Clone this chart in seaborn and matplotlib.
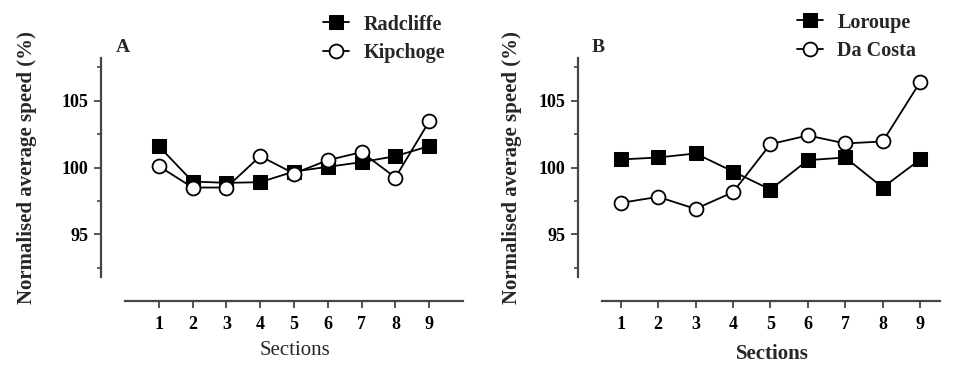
import pandas as pd
import matplotlib
matplotlib.use("Agg")
import matplotlib.pyplot as plt
from matplotlib.ticker import MultipleLocator
import seaborn as sns

# Datos
sections = [1, 2, 3, 4, 5, 6, 7, 8, 9]
radcliffe = [101.6, 98.95, 98.85, 98.9, 99.7, 100.05, 100.4, 100.85, 101.6]
kipchoge = [100.1, 98.5, 98.5, 100.85, 99.55, 100.55, 101.15, 99.25, 103.45]
loroupe = [100.6, 100.75, 101.05, 99.7, 98.35, 100.55, 100.75, 98.5, 100.6]
da_costa = [97.35, 97.8, 96.9, 98.15, 101.75, 102.4, 101.8, 101.95, 106.4]
yticks = [95, 100, 105]

sns.set_style("ticks")
plt.rcParams['font.family'] = ['Liberation Serif', 'DejaVu Serif']
plt.rcParams['font.weight'] = 'bold'

df = pd.DataFrame({'section': sections, 'Radcliffe': radcliffe, 'Kipchoge': kipchoge,
                   'Loroupe': loroupe, 'Da Costa': da_costa})

fig = plt.figure(figsize=(9.58, 3.66), dpi=100)
ax_a = fig.add_axes([125 / 958, 1 - 277 / 366, 338 / 958, 219 / 366])
ax_b = fig.add_axes([602 / 958, 1 - 277 / 366, 338 / 958, 219 / 366])

spine_col = '#4a4444'


def panel(ax, filled, hollow, xlim, letter, letter_x, leg_x, leg_y,
          xlabel_weight, ylab_x, xlab_y):
    sns.lineplot(data=df, x='section', y=filled, ax=ax, color='black', lw=1.3,
                 marker='s', markersize=10, markerfacecolor='black',
                 markeredgecolor='black', label=filled)
    sns.lineplot(data=df, x='section', y=hollow, ax=ax, color='black', lw=1.3,
                 marker='o', markersize=10, markerfacecolor='white',
                 markeredgecolor='black', markeredgewidth=1.3, label=hollow)
    ax.set_xlim(*xlim)
    ax.set_ylim(91.8, 108.2)
    ax.set_xticks(sections)
    ax.set_yticks(yticks)
    ax.yaxis.set_minor_locator(MultipleLocator(2.5))
    ax.tick_params(axis='both', labelsize=13, colors=spine_col, labelcolor='black',
                   width=1.3, length=5, pad=4)
    ax.tick_params(axis='x', pad=6)
    ax.tick_params(axis='y', which='minor', length=3, width=1.2, colors=spine_col)
    for lab in ax.get_xticklabels() + ax.get_yticklabels():
        lab.set_fontweight('bold')
    sns.despine(ax=ax)
    ax.spines['left'].set_position(('outward', 17.5))
    ax.spines['bottom'].set_position(('outward', 17))
    for s in ('left', 'bottom'):
        ax.spines[s].set_linewidth(1.6)
        ax.spines[s].set_color(spine_col)
    ax.set_xlabel('Sections', fontsize=15, fontweight=xlabel_weight)
    ax.set_ylabel('Normalised average speed (%)', fontsize=15, fontweight='bold')
    ax.yaxis.set_label_coords(ylab_x, 0.5)
    ax.xaxis.set_label_coords(0.503, xlab_y)
    fig.text(letter_x, 1 - 47 / 366, letter, fontsize=14, fontweight='bold',
             ha='left', va='center')
    ax.legend(loc='lower left', frameon=False, fontsize=14.5, handlelength=1.3,
              handletextpad=0.7, labelspacing=0.42, borderaxespad=0, borderpad=0)
    leg = ax.get_legend()
    leg.set_bbox_to_anchor((leg_x, 1 - leg_y / 366), transform=fig.transFigure)
    for t in leg.get_texts():
        t.set_fontweight('bold')


panel(ax_a, 'Radcliffe', 'Kipchoge', (0, 10), 'A', 116 / 958, 323 / 958, 63,
      'normal', -0.260, -0.293)
panel(ax_b, 'Loroupe', 'Da Costa', (0.5, 9.53), 'B', 592 / 958, 797 / 958, 61,
      'bold', -0.237, -0.306)

fig.savefig('out.png', dpi=100)
